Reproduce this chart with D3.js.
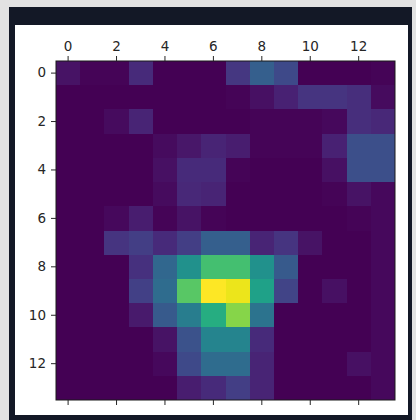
<!DOCTYPE html>
<html>
<head>
<meta charset="utf-8">
<script src="https://cdn.jsdelivr.net/npm/d3@7"></script>
<style>
  html, body { margin: 0; padding: 0; background: #e2e2e2; }
  svg { display: block; }
</style>
</head>
<body>
<svg id="chart" width="416" height="420"></svg>
<script>
// Row / column indices of the 14 x 14 grid
const rowIndex = d3.range(14);
const colIndex = d3.range(14);
// Tick labels shown on the top and left axes
const xTickLabels = [0, 2, 4, 6, 8, 10, 12];
const yTickLabels = [0, 2, 4, 6, 8, 10, 12];

// Intensity values, one array per row (top to bottom)
const row0  = [5, 1, 1, 12, 0, 0, 0, 16, 30, 22, 0, 0, 0, 1];
const row1  = [0, 0, 0, 0, 0, 0, 0, 1, 4, 9, 15, 15, 13, 3];
const row2  = [0, 0, 3, 10, 0, 0, 0, 0, 1, 1, 1, 2, 13, 11];
const row3  = [0, 0, 0, 0, 3, 6, 10, 8, 1, 1, 1, 9, 24, 24];
const row4  = [0, 0, 0, 0, 4, 12, 12, 1, 0, 0, 0, 4, 24, 24];
const row5  = [0, 0, 0, 0, 3, 11, 10, 0, 0, 0, 0, 1, 5, 2];
const row6  = [0, 0, 2, 8, 1, 5, 1, 0, 0, 0, 0, 0, 1, 2];
const row7  = [0, 0, 15, 18, 12, 18, 30, 30, 10, 15, 5, 0, 0, 2];
const row8  = [0, 0, 0, 14, 33, 50, 70, 70, 50, 28, 0, 0, 0, 2];
const row9  = [0, 0, 0, 19, 35, 74, 100, 97, 57, 20, 0, 4, 0, 2];
const row10 = [0, 0, 0, 7, 28, 42, 62, 82, 38, 0, 0, 0, 0, 2];
const row11 = [0, 0, 0, 0, 5, 25, 45, 45, 12, 0, 0, 0, 0, 2];
const row12 = [0, 0, 0, 0, 2, 22, 35, 35, 10, 0, 0, 0, 4, 2];
const row13 = [0, 0, 0, 0, 0, 8, 12, 18, 10, 0, 0, 0, 0, 2];

const rows = [row0, row1, row2, row3, row4, row5, row6,
              row7, row8, row9, row10, row11, row12, row13];
const cells = [];
rows.forEach((r, i) => r.forEach((v, j) => cells.push({ row: i, col: j, value: v })));

const svg = d3.select("#chart");

// Dark card with a white plotting panel inside
svg.append("rect").attr("x", 9).attr("y", 7).attr("width", 403).attr("height", 413)
  .attr("fill", "#131826");
svg.append("rect").attr("x", 15).attr("y", 25).attr("width", 393).attr("height", 390)
  .attr("fill", "#ffffff");

const plot = { left: 56, right: 395, top: 61, bottom: 400 };

const x = d3.scaleBand().domain(colIndex).range([plot.left, plot.right]).padding(0);
const y = d3.scaleBand().domain(rowIndex).range([plot.top, plot.bottom]).padding(0);
const color = d3.scaleSequential(d3.interpolateViridis)
  .domain([d3.min(cells, d => d.value), d3.max(cells, d => d.value)]);

// Heatmap cells; each overlaps its neighbour slightly so no seams show
svg.append("g")
  .attr("shape-rendering", "crispEdges")
  .selectAll("rect")
  .data(cells)
  .join("rect")
  .attr("x", d => x(d.col))
  .attr("y", d => y(d.row))
  .attr("width", d => d.col === colIndex.length - 1 ? x.bandwidth() : x.bandwidth() + 1)
  .attr("height", d => d.row === rowIndex.length - 1 ? y.bandwidth() : y.bandwidth() + 1)
  .attr("fill", d => color(d.value));

// Axes frame
svg.append("rect")
  .attr("x", plot.left).attr("y", plot.top)
  .attr("width", plot.right - plot.left).attr("height", plot.bottom - plot.top)
  .attr("fill", "none").attr("stroke", "#1a1a1a").attr("stroke-width", 1);

const font = "DejaVu Sans, sans-serif";

const axisTop = d3.axisTop(x).tickValues(xTickLabels).tickSize(5).tickPadding(5);
const gTop = svg.append("g").attr("transform", `translate(0,${plot.top})`).call(axisTop);
const axisLeft = d3.axisLeft(y).tickValues(yTickLabels).tickSize(5).tickPadding(5);
const gLeft = svg.append("g").attr("transform", `translate(${plot.left},0)`).call(axisLeft);
const axisBottom = d3.axisBottom(x).tickValues(xTickLabels).tickSize(5).tickFormat("");
const gBottom = svg.append("g").attr("transform", `translate(0,${plot.bottom})`).call(axisBottom);

[gTop, gLeft, gBottom].forEach(g => {
  g.select(".domain").remove();
  g.selectAll(".tick line").attr("stroke", "#262626").attr("stroke-width", 1);
  g.selectAll(".tick text")
    .attr("fill", "#262626")
    .style("font-family", font)
    .style("font-size", "13.5px");
});
</script>
</body>
</html>
